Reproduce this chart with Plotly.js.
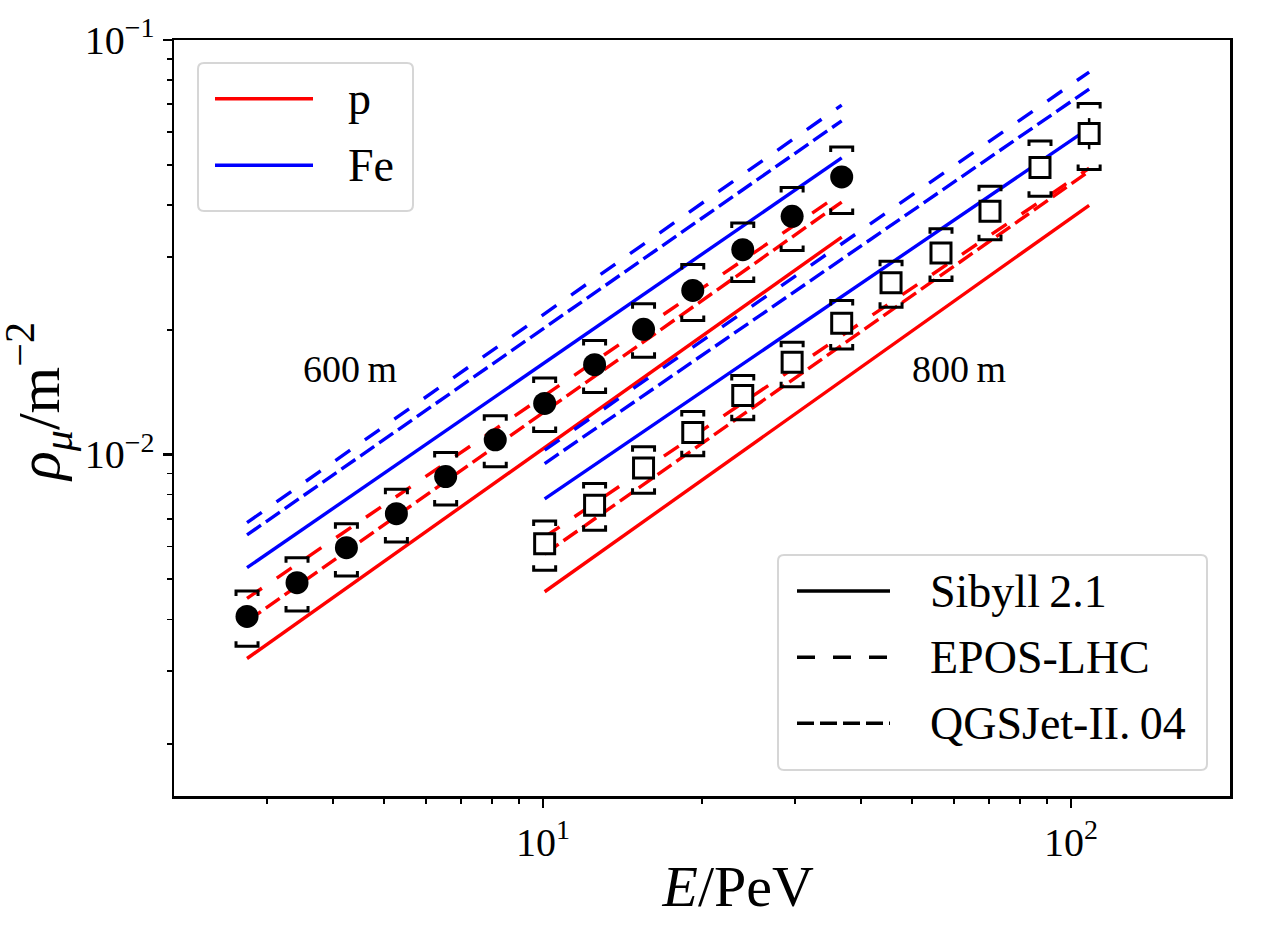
<!DOCTYPE html>
<html><head><meta charset="utf-8">
<script src="https://cdn.plot.ly/plotly-3.0.1.min.js"></script>
<style>html,body{margin:0;padding:0;background:#fff}#chart{width:1277px;height:925px}</style>
</head><body><div id="chart"></div><script>
// ---- data: 600 m (filled circles) ----
const E600 = [2.750, 3.420, 4.242, 5.275, 6.539, 8.118, 10.07, 12.52, 15.50, 19.21, 23.89, 29.63, 36.78];
const rho600 = [0.004068, 0.004905, 0.005960, 0.007200, 0.008847, 0.01085, 0.01328, 0.01647, 0.02005, 0.02487, 0.03119, 0.03754, 0.04673];
const sysUp600 = [0.004684, 0.005636, 0.006811, 0.008248, 0.01011, 0.01240, 0.01530, 0.01883, 0.02310, 0.02873, 0.03617, 0.04405, 0.05522];
const sysLow600 = [0.003448, 0.004190, 0.005091, 0.006152, 0.007557, 0.009339, 0.01137, 0.01412, 0.01716, 0.02105, 0.02615, 0.03107, 0.03812];
// ---- data: 800 m (open squares) ----
const E800 = [10.07, 12.52, 15.50, 19.21, 23.89, 29.63, 36.78, 45.61, 56.71, 70.22, 87.33, 108.2];
const rho800 = [0.006094, 0.007545, 0.009271, 0.01130, 0.01387, 0.01669, 0.02074, 0.02596, 0.03061, 0.03861, 0.04924, 0.05950];
const sysUp800 = [0.006914, 0.008509, 0.01044, 0.01270, 0.01550, 0.01865, 0.02352, 0.02927, 0.03506, 0.04437, 0.05709, 0.07031];
const sysLow800 = [0.005255, 0.006567, 0.008067, 0.009929, 0.01213, 0.01457, 0.01798, 0.02266, 0.02630, 0.03299, 0.04196, 0.04870];
const statPlus800 = [0, 0, 0, 0, 0, 0, 0, 0, 0, 0, 0, 0.0053];
const statMinus800 = [0, 0, 0, 0, 0, 0, 0, 0, 0, 0, 0, 0.0050];
// ---- model predictions (straight lines in log-log), at first and last energy ----
const Eline600 = [2.750, 36.78];
const Eline800 = [10.07, 108.2];
const pSibyll600 = [0.003220, 0.03346];
const pEPOS600 = [0.004497, 0.04275];
const pQGS600 = [0.003956, 0.04065];
const FeSibyll600 = [0.005332, 0.05194];
const FeEPOS600 = [0.006849, 0.06965];
const FeQGS600 = [0.006396, 0.06381];
const pSibyll800 = [0.004665, 0.03992];
const pEPOS800 = [0.006325, 0.04905];
const pQGS800 = [0.005754, 0.04823];
const FeSibyll800 = [0.007814, 0.06128];
const FeEPOS800 = [0.01025, 0.08369];
const FeQGS800 = [0.009510, 0.07613];
// ---- labels ----
const primaryNames = ['p', 'Fe'];
const modelNames = ['Sibyll\u20092.1', 'EPOS-LHC', 'QGSJet-II.\u200904'];
const xTitle = '<i>E</i>/PeV';
const yTitle = '<i>ρ</i><sub><i>μ</i></sub>/m<sup>\u22122</sup>';
const xTickVals = [10, 100];
const xTickText = ['10<sup>1</sup>', '10<sup>2</sup>'];
const yTickVals = [0.01, 0.1];
const yTickText = ['10<sup>\u22122</sup>', '10<sup>\u22121</sup>'];
const xMinor = [3, 4, 5, 6, 7, 8, 9, 20, 30, 40, 50, 60, 70, 80, 90];
const yMinor = [0.002, 0.003, 0.004, 0.005, 0.006, 0.007, 0.008, 0.009, 0.02, 0.03, 0.04, 0.05, 0.06, 0.07, 0.08, 0.09];

// ---- styles ----
const RED = '#ff0000', BLUE = '#0000ff';
const DASH = {sib: 'solid', epos: '18px,18px', qgs: '17px,6px'};
const FONT = 'Liberation Serif, Times New Roman, serif';
const LW = 3.4;

function modelLine(x, y, color, dash) {
  return {x: x, y: y, type: 'scatter', mode: 'lines', showlegend: false, hoverinfo: 'skip',
          line: {color: color, width: LW, dash: dash}};
}
const traces = [
  modelLine(Eline600, FeEPOS600, BLUE, DASH.epos),
  modelLine(Eline600, FeQGS600, BLUE, DASH.qgs),
  modelLine(Eline600, FeSibyll600, BLUE, DASH.sib),
  modelLine(Eline600, pEPOS600, RED, DASH.epos),
  modelLine(Eline600, pQGS600, RED, DASH.qgs),
  modelLine(Eline600, pSibyll600, RED, DASH.sib),
  modelLine(Eline800, FeEPOS800, BLUE, DASH.epos),
  modelLine(Eline800, FeQGS800, BLUE, DASH.qgs),
  modelLine(Eline800, FeSibyll800, BLUE, DASH.sib),
  modelLine(Eline800, pEPOS800, RED, DASH.epos),
  modelLine(Eline800, pQGS800, RED, DASH.qgs),
  modelLine(Eline800, pSibyll800, RED, DASH.sib),
  {x: E600, y: rho600, type: 'scatter', mode: 'markers', showlegend: false,
   marker: {symbol: 'circle', size: 23, color: 'black', line: {width: 0}}},
  {x: E800, y: rho800, type: 'scatter', mode: 'markers', showlegend: false,
   error_y: {type: 'data', symmetric: false, array: statPlus800, arrayminus: statMinus800,
             width: 0, thickness: 2.5, color: 'black'},
   marker: {symbol: 'square', size: 20, color: 'white', line: {width: 3, color: 'black'}}}
];

// ---- systematic-uncertainty brackets (pixel-sized, anchored at data values) ----
const shapes = [];
function bracket(x, y, top) {
  return {type: 'path', xref: 'x', yref: 'y', xsizemode: 'pixel', ysizemode: 'pixel',
          xanchor: x, yanchor: y, layer: 'above',
          path: top ? 'M-11,-5L-11,0L11,0L11,-5' : 'M-11,5L-11,0L11,0L11,5',
          line: {color: 'black', width: 3}};
}
E600.forEach((e, i) => { shapes.push(bracket(e, sysUp600[i], true)); shapes.push(bracket(e, sysLow600[i], false)); });
E800.forEach((e, i) => { shapes.push(bracket(e, sysUp800[i], true)); shapes.push(bracket(e, sysLow800[i], false)); });

// ---- custom legends (matplotlib-style long handles) ----
const M = {l: 174, r: 47, t: 40, b: 129};
const W = 1277, H = 925, PW = W - M.l - M.r, PH = H - M.t - M.b;
const px2x = p => (p - M.l) / PW, px2y = p => 1 - (p - M.t) / PH;
function roundBox(x0, y0, x1, y1, r) {
  const a = px2x(x0), b = px2x(x1), c = px2y(y0), d = px2y(y1);
  const rx = r / PW, ry = r / PH;
  return {type: 'path', xref: 'paper', yref: 'paper', layer: 'above',
          fillcolor: 'rgba(255,255,255,0.8)', line: {color: '#d6d6d6', width: 2},
          path: `M${a + rx},${c} L${b - rx},${c} Q${b},${c} ${b},${c - ry} L${b},${d + ry} Q${b},${d} ${b - rx},${d} ` +
                `L${a + rx},${d} Q${a},${d} ${a},${d + ry} L${a},${c - ry} Q${a},${c} ${a + rx},${c} Z`};
}
const annotations = [];
function legendItem(xl0, xl1, yl, xt, color, dash, text) {
  shapes.push({type: 'line', xref: 'paper', yref: 'paper', layer: 'above',
               x0: px2x(xl0), x1: px2x(xl1), y0: px2y(yl), y1: px2y(yl),
               line: {color: color, width: LW, dash: dash}});
  annotations.push({xref: 'paper', yref: 'paper', x: px2x(xt), y: px2y(yl), xanchor: 'left', yanchor: 'middle',
                    text: text, showarrow: false, font: {family: FONT, size: 46, color: 'black'}});
}
shapes.push(roundBox(198, 63, 413, 211, 6));
legendItem(215, 313, 98.7, 346, RED, 'solid', primaryNames[0]);
legendItem(215, 313, 165.3, 346, BLUE, 'solid', primaryNames[1]);
shapes.push(roundBox(778, 555, 1207, 770, 6));
legendItem(797, 890, 591, 928, 'black', DASH.sib, modelNames[0]);
legendItem(797, 890, 657.3, 928, 'black', DASH.epos, modelNames[1]);
legendItem(797, 890, 723.3, 928, 'black', DASH.qgs, modelNames[2]);

// distance labels
annotations.push({x: Math.log10(4.30), y: Math.log10(0.0161), xref: 'x', yref: 'y', text: '600\u2009m', showarrow: false,
                  font: {family: FONT, size: 38, color: 'black'}});
annotations.push({x: Math.log10(61.4), y: Math.log10(0.0161), xref: 'x', yref: 'y', text: '800\u2009m', showarrow: false,
                  font: {family: FONT, size: 38, color: 'black'}});
// y-axis title (placed as rotated text so it clears the tick labels like the reference)
annotations.push({xref: 'paper', yref: 'paper', x: px2x(82), y: px2y(402), xanchor: 'right', yanchor: 'middle',
                  textangle: -90, text: yTitle, showarrow: false, borderpad: 0,
                  font: {family: FONT, size: 60, color: 'black'}});

const axisCommon = {
  type: 'log', showgrid: false, zeroline: false, showline: true, linecolor: 'black', linewidth: 2.5,
  mirror: true, ticks: 'outside', ticklen: 9, tickwidth: 2.2, tickcolor: 'black',
  tickfont: {family: FONT, size: 40, color: 'black'}, tickmode: 'array'
};
const layout = {
  width: W, height: H, margin: M, paper_bgcolor: 'white', plot_bgcolor: 'white',
  showlegend: false,
  xaxis: Object.assign({}, axisCommon, {
    range: [Math.log10(2), Math.log10(200)], tickvals: xTickVals, ticktext: xTickText,
    minor: {tickmode: 'array', tickvals: xMinor, ticks: 'outside', ticklen: 5, tickwidth: 1.6, tickcolor: 'black'},
    title: {text: '\u200b\u2003\u2005' + xTitle, font: {family: FONT, size: 58, color: 'black'}, standoff: 2}
  }),
  yaxis: Object.assign({}, axisCommon, {
    range: [Math.log10(0.0015), -1], tickvals: yTickVals, ticktext: yTickText,
    minor: {tickmode: 'array', tickvals: yMinor, ticks: 'outside', ticklen: 5, tickwidth: 1.6, tickcolor: 'black'}
  }),
  shapes: shapes, annotations: annotations
};
Plotly.newPlot('chart', traces, layout, {displayModeBar: false, staticPlot: true});
</script></body></html>
